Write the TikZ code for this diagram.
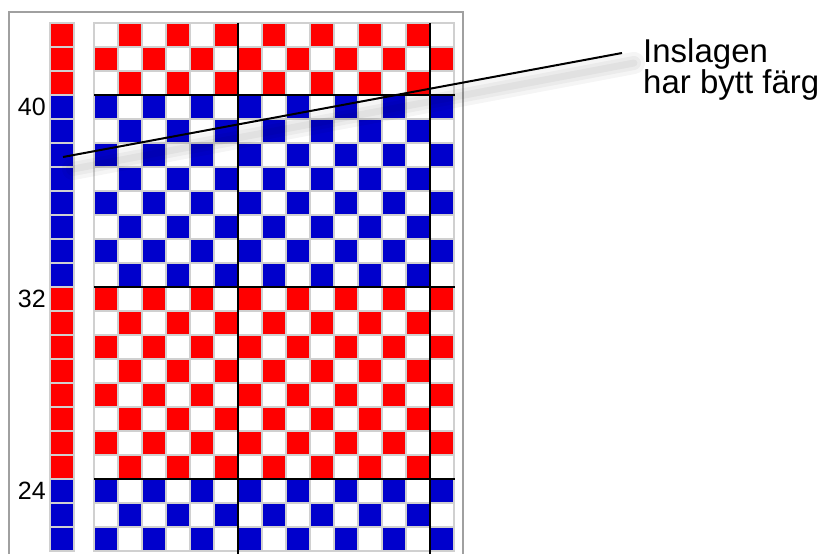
\documentclass[tikz,border=0pt]{standalone}
\usepackage{fontspec}
\setmainfont{Liberation Sans}
\usetikzlibrary{positioning}
\definecolor{weftred}{HTML}{FF0000}
\definecolor{weftblue}{HTML}{0000CC}
\definecolor{cellgray}{HTML}{D0D0D0}
\definecolor{framegray}{HTML}{A0A0A0}

\begin{document}
\begin{tikzpicture}[x=1pt,y=-1pt,cell/.style={draw=cellgray,line width=2pt},tie/.style={line width=2.5pt,black},leader/.style={line width=2pt,black},lbl/.style={font=\fontsize{25}{28}\selectfont,inner sep=0pt,anchor=east}]
\useasboundingbox (0,0) rectangle (827,554);
\clip (0,0) rectangle (827,554);
\fill[white] (0,0) rectangle (827,554);
\draw[framegray,line width=2pt] (9,570) |- (463,12) -- (463,570);
\foreach \r in {0,...,21}{
  \pgfmathtruncatemacro\blk{mod(floor((\r+5)/8),2)}
  \ifnum\blk=1 \def\rowcol{weftblue}\else\def\rowcol{weftred}\fi
  \draw[cell,fill=\rowcol] (50,{23+24*\r}) rectangle +(24,24);
  \foreach \c in {0,...,14}{
    \pgfmathtruncatemacro\on{mod(\r+\c,2)}
    \ifnum\on=1 \def\cellcol{\rowcol}\else\def\cellcol{white}\fi
    \draw[cell,fill=\cellcol] ({94+24*\c},{23+24*\r}) rectangle +(24,24);
  }
}
\foreach \x in {238,430} \draw[tie] (\x,23) -- (\x,570);
\foreach \y in {95,287,479} \draw[tie] (94,\y) -- (455,\y);
\node[lbl] (n40) at (46,107) {40};
\node[lbl] (n32) at (46,299) {32};
\node[lbl] (n24) at (46,491) {24};
\node[anchor=north west,inner sep=0pt,align=left,font=\fontsize{33}{31}\selectfont] (note) at (643,38) {Inslagen\\har bytt färg};
\coordinate (weft) at (63,157);
\coordinate (hook) at (622,53);
\foreach \w in {22,14,7} \draw[line width=\w pt,black,opacity=.04,line cap=round] ([shift={(10,12)}]weft) -- ([shift={(12,10)}]hook);
\draw[leader] (weft) -- (hook);
\end{tikzpicture}
\end{document}
